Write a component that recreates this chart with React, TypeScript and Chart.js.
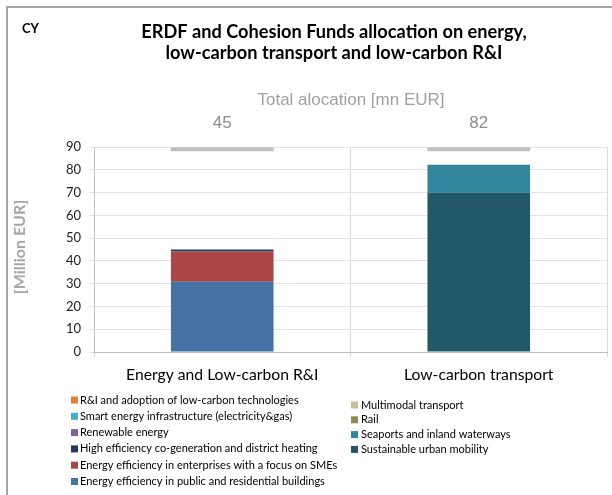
import React, { useEffect, useRef } from "react";
import { Chart, registerables } from "chart.js";

Chart.register(...registerables);

const categories = ["Energy and Low-carbon R&I", "Low-carbon transport"];
const totals = [45, 82];
const markerLevel = [89, 89];

const energyPublic = [30.8, 0];
const energySMEs = [13.3, 0];
const highEfficiency = [0.9, 0];
const renewable = [0, 0];
const smartEnergy = [0, 0];
const rAndI = [0, 0];
const urbanMobility = [0, 70];
const seaports = [0, 12.2];
const rail = [0, 0];
const multimodal = [0, 0];

const yTicks = [0, 10, 20, 30, 40, 50, 60, 70, 80, 90];

const leftLegend = [
  { label: "R&I and adoption of low-carbon technologies", color: "#e0803a" },
  { label: "Smart energy infrastructure (electricity&gas)", color: "#4bacc6" },
  { label: "Renewable energy", color: "#8064a2" },
  { label: "High efficiency co-generation and district heating", color: "#1f3864" },
  { label: "Energy efficiency in enterprises with a focus on SMEs", color: "#aa4643" },
  { label: "Energy efficiency in public and residential buildings", color: "#4572a7" },
];
const rightLegend = [
  { label: "Multimodal transport", color: "#c4bd97" },
  { label: "Rail", color: "#948a54" },
  { label: "Seaports and inland waterways", color: "#31859c" },
  { label: "Sustainable urban mobility", color: "#215968" },
];

const BODY = "Lato, 'Open Sans', sans-serif";
const ARIAL = "'Liberation Sans', Arial, sans-serif";

const decorPlugin = {
  id: "decor",
  afterDraw(chart: any) {
    const ctx = chart.ctx;
    const x = chart.scales.x;
    ctx.save();
    // frame
    ctx.strokeStyle = "#a6a6a6";
    ctx.lineWidth = 2;
    ctx.beginPath();
    ctx.moveTo(612, 7);
    ctx.lineTo(7, 7);
    ctx.lineTo(7, 495);
    ctx.stroke();

    // CY
    ctx.fillStyle = "#000";
    ctx.textBaseline = "middle";
    ctx.textAlign = "left";
    ctx.font = `bold 13px ${BODY}`;
    ctx.fillText("CY", 22, 29);

    // title
    ctx.textAlign = "center";
    ctx.font = `bold 18.2px ${BODY}`;
    ctx.fillText("ERDF and Cohesion Funds allocation on energy,", 334, 32);
    ctx.fillText("low-carbon transport and low-carbon R&I", 334, 53);

    // total allocation
    ctx.fillStyle = "#a0a0a0";
    ctx.font = `17px ${ARIAL}`;
    ctx.fillText("Total alocation [mn EUR]", 351, 100);
    ctx.fillStyle = "#8c8c8c";
    ctx.font = `17px ${ARIAL}`;
    totals.forEach((t, i) => {
      ctx.fillText(String(t), x.getPixelForValue(i), 123);
    });

    // y title
    ctx.save();
    ctx.translate(20, 247);
    ctx.rotate(-Math.PI / 2);
    ctx.fillStyle = "#a6a6a6";
    ctx.font = `bold 16px ${BODY}`;
    ctx.fillText("[Million EUR]", 0, 0);
    ctx.restore();

    // legend
    ctx.textAlign = "left";
    ctx.font = `11px ${BODY}`;
    leftLegend.forEach((item, i) => {
      const yy = 400 + i * 16.3;
      ctx.fillStyle = item.color;
      ctx.fillRect(71, yy - 3.5, 7, 7);
      ctx.fillStyle = "#000";
      ctx.fillText(item.label, 80, yy);
    });
    rightLegend.forEach((item, i) => {
      const yy = 405 + i * 14.8;
      ctx.fillStyle = item.color;
      ctx.fillRect(351, yy - 3.5, 7, 7);
      ctx.fillStyle = "#000";
      ctx.fillText(item.label, 361, yy);
    });
    ctx.restore();
  },
};

export default function App() {
  const ref = useRef<HTMLCanvasElement>(null);
  useEffect(() => {
    if (!ref.current) return;
    const mk = (label: string, data: number[], color: string) => ({
      type: "bar" as const,
      label,
      data,
      backgroundColor: color,
      borderWidth: 0,
      stack: "s",
      categoryPercentage: 1,
      barPercentage: 0.4,
    });
    const chart = new Chart(ref.current, {
      type: "bar",
      data: {
        labels: categories,
        datasets: [
          mk("Energy efficiency in public and residential buildings", energyPublic, "#4572a7"),
          mk("Energy efficiency in enterprises with a focus on SMEs", energySMEs, "#aa4643"),
          mk("High efficiency co-generation and district heating", highEfficiency, "#1f3864"),
          mk("Renewable energy", renewable, "#8064a2"),
          mk("Smart energy infrastructure (electricity&gas)", smartEnergy, "#4bacc6"),
          mk("R&I and adoption of low-carbon technologies", rAndI, "#e0803a"),
          mk("Sustainable urban mobility", urbanMobility, "#215968"),
          mk("Seaports and inland waterways", seaports, "#31859c"),
          mk("Rail", rail, "#948a54"),
          mk("Multimodal transport", multimodal, "#c4bd97"),
          {
            type: "line" as const,
            label: "Total allocation",
            data: markerLevel,
            showLine: false,
            pointStyle: "line",
            pointRadius: 51.5,
            pointBorderWidth: 4,
            pointBorderColor: "#c0c0c0",
            borderColor: "#c0c0c0",
            clip: false,
          } as any,
        ],
      },
      options: {
        responsive: false,
        animation: false,
        layout: { autoPadding: false, padding: { left: 54, right: 5, top: 147, bottom: 108 } },
        plugins: { legend: { display: false }, tooltip: { enabled: false }, title: { display: false } },
        scales: {
          x: {
            stacked: true,
            afterFit: (s: any) => { s.height = 35; },
            grid: { color: "#d9d9d9", tickLength: 5, offset: true },
            border: { color: "#bfbfbf" },
            ticks: { color: "#000", font: { family: BODY, size: 15.7 }, padding: 9 },
          },
          y: {
            stacked: true,
            min: 0,
            max: 90,
            afterFit: (s: any) => { s.width = 40; },
            afterBuildTicks: (s: any) => { s.ticks = yTicks.map((v) => ({ value: v })); },
            grid: { color: "#e3e3e3", tickLength: 4 },
            border: { color: "#bfbfbf" },
            ticks: { color: "#222", font: { family: BODY, size: 13 }, padding: 9 },
          },
        },
      },
      plugins: [decorPlugin],
    });
    return () => chart.destroy();
  }, []);
  return (
    <div style={{ position: "absolute", left: 0, top: 0, width: 612, height: 495, background: "#fff" }}>
      <canvas ref={ref} width={612} height={495} />
    </div>
  );
}
